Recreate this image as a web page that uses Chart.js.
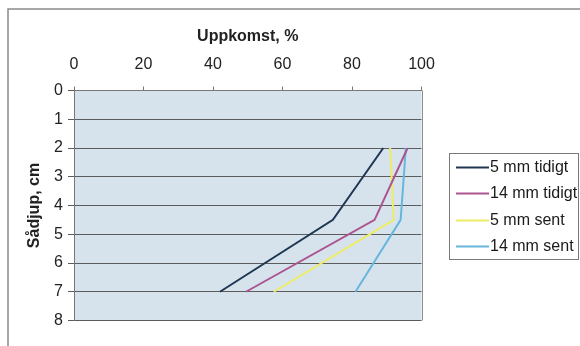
<!DOCTYPE html>
<html>
<head>
<meta charset="utf-8">
<script src="https://cdn.jsdelivr.net/npm/chart.js@4/dist/chart.umd.min.js"></script>
<style>
  html, body { margin: 0; padding: 0; background: #ffffff; }
  #wrap { position: relative; width: 580px; height: 346px; }
  canvas { display: block; }
</style>
</head>
<body>
<div id="wrap"><canvas id="c" width="580" height="346"></canvas></div>
<script>
// Sowing depth (cm) at which emergence was measured
const depthsCm = [2, 4.5, 7];

// Emergence (%) per treatment
const seriesNames = ['5 mm tidigt', '14 mm tidigt', '5 mm sent', '14 mm sent'];
const emergence5mmEarly  = [89, 74.5, 42];
const emergence14mmEarly = [96, 86.5, 49.5];
const emergence5mmLate   = [91, 92, 57.5];
const emergence14mmLate  = [95.5, 94, 81];

const xTicks = [0, 20, 40, 60, 80, 100];
const yTicks = [0, 1, 2, 3, 4, 5, 6, 7, 8];

const seriesValues = [emergence5mmEarly, emergence14mmEarly, emergence5mmLate, emergence14mmLate];
const seriesColors = ['#1f3753', '#ab5490', '#eeec66', '#67b6de'];

const FONT = "'Liberation Sans', Arial, sans-serif";

const datasets = seriesNames.map((name, i) => ({
  label: name,
  data: seriesValues[i].map((v, k) => ({ x: v, y: depthsCm[k] })),
  borderColor: seriesColors[i],
  backgroundColor: seriesColors[i],
  borderWidth: 2,
  pointRadius: 0,
  tension: 0,
  fill: false
}));

// Plot background, plot frame and outer chart frame
const framePlugin = {
  id: 'frames',
  beforeDraw(chart) {
    const { ctx, chartArea: a } = chart;
    ctx.save();
    ctx.fillStyle = '#ffffff';
    ctx.fillRect(0, 0, chart.width, chart.height);
    ctx.fillStyle = '#d6e3ec';
    ctx.fillRect(a.left, a.top, a.right - a.left, a.bottom - a.top);
    ctx.strokeStyle = '#8a8a8a';
    ctx.lineWidth = 1.5;
    ctx.beginPath();
    ctx.moveTo(8, chart.height);
    ctx.lineTo(8, 9);
    ctx.lineTo(chart.width, 9);
    ctx.stroke();
    ctx.restore();
  },
  afterDatasetsDraw(chart) {
    const { ctx, chartArea: a } = chart;
    ctx.save();
    ctx.strokeStyle = '#8c8c8c';
    ctx.lineWidth = 1;
    ctx.beginPath();
    ctx.moveTo(Math.round(a.right) + 0.5, a.top);
    ctx.lineTo(Math.round(a.right) + 0.5, a.bottom);
    ctx.stroke();
    ctx.restore();
  }
};

// Boxed legend to the right of the plot
const legendPlugin = {
  id: 'boxLegend',
  afterDraw(chart) {
    const { ctx } = chart;
    const left = 449.5, top = 153.5, rowH = 26.5, width = 129;
    const n = chart.data.datasets.length;
    const height = rowH * n;
    ctx.save();
    ctx.fillStyle = '#ffffff';
    ctx.fillRect(left, top, width, height);
    ctx.strokeStyle = '#7a7a7a';
    ctx.lineWidth = 1;
    ctx.strokeRect(left, top, width, height);
    ctx.font = '16px ' + FONT;
    ctx.textBaseline = 'middle';
    ctx.textAlign = 'left';
    chart.data.datasets.forEach((ds, i) => {
      const y = top + 13 + rowH * i;
      ctx.strokeStyle = ds.borderColor;
      ctx.lineWidth = 2;
      ctx.beginPath();
      ctx.moveTo(456, Math.round(y) + 0.5);
      ctx.lineTo(489, Math.round(y) + 0.5);
      ctx.stroke();
      ctx.fillStyle = '#1a1a1a';
      ctx.fillText(ds.label, 490, y + 1);
    });
    ctx.restore();
  }
};

new Chart(document.getElementById('c'), {
  type: 'line',
  data: { datasets },
  plugins: [framePlugin, legendPlugin],
  options: {
    responsive: false,
    animation: false,
    devicePixelRatio: 1,
    layout: { padding: { left: 0, top: 0, right: 158.5, bottom: 25.5 } },
    plugins: { legend: { display: false }, tooltip: { enabled: false } },
    scales: {
      x: {
        type: 'linear',
        position: 'top',
        min: 0,
        max: 100,
        afterBuildTicks(s) { s.ticks = xTicks.map(v => ({ value: v })); },
        afterFit(s) { s.height = 90.5; },
        grid: { drawOnChartArea: false, drawTicks: true, tickLength: 4, color: '#777777' },
        border: { display: true, color: '#777777', width: 1 },
        ticks: { color: '#222222', font: { family: FONT, size: 16 }, padding: 12, maxRotation: 0 },
        title: {
          display: true,
          text: 'Uppkomst, %',
          color: '#222222',
          font: { family: FONT, size: 16, weight: 'bold' },
          padding: { top: 27, bottom: 0 }
        }
      },
      y: {
        type: 'linear',
        reverse: true,
        min: 0,
        max: 8,
        afterBuildTicks(s) { s.ticks = yTicks.map(v => ({ value: v })); },
        afterFit(s) { s.width = 74; },
        grid: { drawOnChartArea: true, drawTicks: true, tickLength: 6, color: '#5c5c5c', lineWidth: 1 },
        border: { display: true, color: '#777777', width: 1 },
        ticks: { color: '#222222', font: { family: FONT, size: 16 }, padding: 5 },
        title: {
          display: true,
          text: 'Sådjup, cm',
          color: '#222222',
          font: { family: FONT, size: 16, weight: 'bold' },
          padding: { top: 25, bottom: 0 }
        }
      }
    }
  }
});
</script>
</body>
</html>
